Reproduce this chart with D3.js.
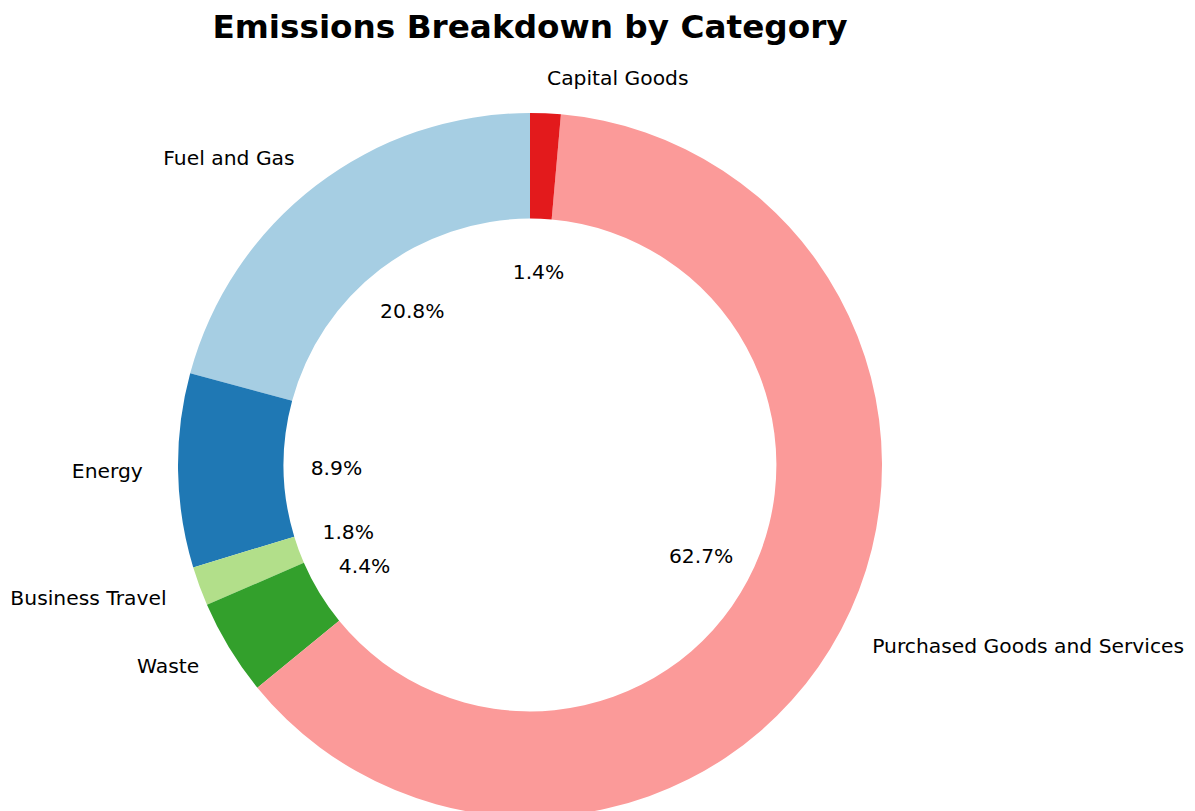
<!DOCTYPE html>
<html>
<head>
<meta charset="utf-8">
<script src="https://cdn.jsdelivr.net/npm/d3@7"></script>
<style>
  html, body { margin: 0; padding: 0; background: #fff; }
  svg { display: block; font-family: "DejaVu Sans", sans-serif; }
</style>
</head>
<body>
<svg id="chart" width="1195" height="811"></svg>
<script>
// Emission shares by category (percent), listed counter-clockwise from 12 o'clock
const categories = ["Fuel and Gas", "Energy", "Business Travel", "Waste", "Purchased Goods and Services", "Capital Goods"];
const shares = [20.8, 8.9, 1.8, 4.4, 62.7, 1.4];
const colors = ["#a6cee3", "#1f78b4", "#b2df8a", "#33a02c", "#fb9a99", "#e31a1c"];
const title = "Emissions Breakdown by Category";

const width = 1195, height = 811;
const cx = 530, cy = 465;
const outerR = 352;
const innerR = outerR * 0.7;
const labelR = outerR * 1.1;
const pctR = outerR * 0.55;
const labelSize = 20.3;

const svg = d3.select("#chart");

svg.append("text")
  .attr("x", cx)
  .attr("y", 27)
  .attr("text-anchor", "middle")
  .attr("dominant-baseline", "central")
  .attr("font-size", 32.7)
  .attr("font-weight", "bold")
  .attr("fill", "#000")
  .text(title);

const data = categories.map((c, i) => ({ name: c, value: shares[i], color: colors[i] }));

// Counter-clockwise from the top
const pie = d3.pie()
  .value(d => d.value)
  .sort(null)
  .startAngle(0)
  .endAngle(-2 * Math.PI);

const arcs = pie(data);
const arc = d3.arc().innerRadius(innerR).outerRadius(outerR);

const g = svg.append("g").attr("transform", `translate(${cx},${cy})`);

g.selectAll("path.slice")
  .data(arcs)
  .join("path")
  .attr("class", "slice")
  .attr("d", arc)
  .attr("fill", d => d.data.color);

const mid = d => (d.startAngle + d.endAngle) / 2;

// Category labels outside the ring
g.selectAll("text.cat")
  .data(arcs)
  .join("text")
  .attr("class", "cat")
  .attr("x", d => Math.sin(mid(d)) * labelR)
  .attr("y", d => -Math.cos(mid(d)) * labelR)
  .attr("text-anchor", d => Math.sin(mid(d)) > 0 ? "start" : "end")
  .attr("dominant-baseline", "central")
  .attr("font-size", labelSize)
  .attr("fill", "#000")
  .text(d => d.data.name);

// Percentage labels inside the ring
g.selectAll("text.pct")
  .data(arcs)
  .join("text")
  .attr("class", "pct")
  .attr("x", d => Math.sin(mid(d)) * pctR)
  .attr("y", d => -Math.cos(mid(d)) * pctR)
  .attr("text-anchor", "middle")
  .attr("dominant-baseline", "central")
  .attr("font-size", labelSize)
  .attr("fill", "#000")
  .text(d => d.data.value.toFixed(1) + "%");
</script>
</body>
</html>
